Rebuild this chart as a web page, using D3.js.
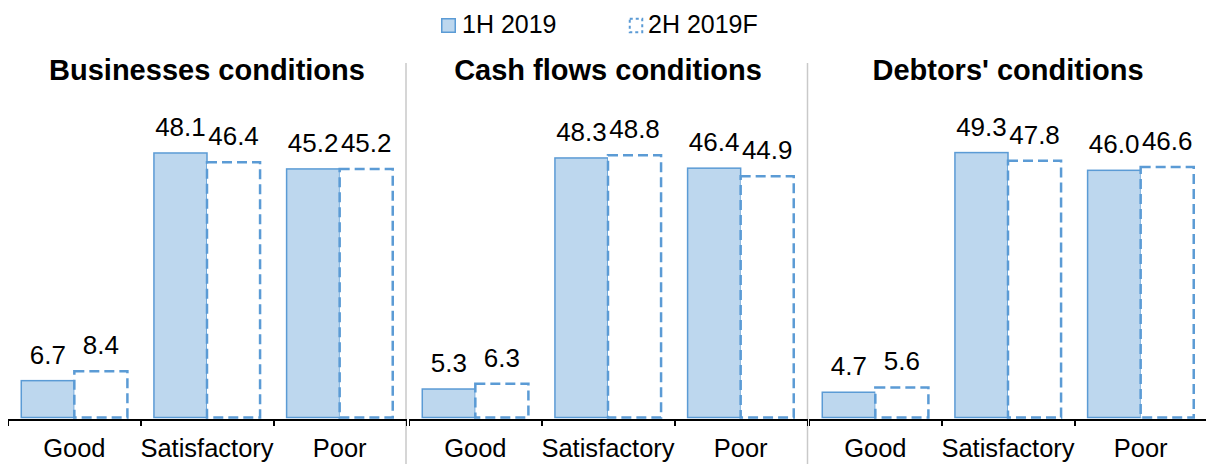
<!DOCTYPE html>
<html>
<head>
<meta charset="utf-8">
<script src="https://cdn.jsdelivr.net/npm/d3@7"></script>
<style>
  body { margin: 0; background: #fff; }
  svg { display: block; font-family: 'Liberation Sans', Arial, sans-serif; }
</style>
</head>
<body>
<script>
// chart data
const categories = ['Good', 'Satisfactory', 'Poor']
const seriesNames = ['1H 2019', '2H 2019F']
const panelTitles = ['Businesses conditions', 'Cash flows conditions', "Debtors' conditions"]
const firstHalf = [[6.7, 48.1, 45.2], [5.3, 48.3, 46.4], [4.7, 49.3, 46.0]]
const secondHalf = [[8.4, 46.4, 45.2], [6.3, 48.8, 44.9], [5.6, 47.8, 46.6]]

const width = 1206
const height = 464
const baseY = 417.5
const topY = 65
const panelX = [8, 409, 809]
const panelW = 398
// each panel in the source has its own value axis maximum
const panelMax = [64.1, 65.6, 65.6]

const fillA = '#bdd7ee'
const strokeB = '#5b9bd5'

const svg = d3.select('body').append('svg')
  .attr('width', width)
  .attr('height', height)

// legend
const legend = svg.append('g')
legend.append('rect')
  .attr('x', 441.75).attr('y', 18.75)
  .attr('width', 13.5).attr('height', 13.5)
  .style('fill', fillA)
  .style('stroke', strokeB)
  .style('stroke-width', 1.5)
legend.append('text')
  .attr('x', 462).attr('y', 33)
  .style('font-size', '25px')
  .text(seriesNames[0])
legend.append('rect')
  .attr('x', 629.75).attr('y', 18.75)
  .attr('width', 12.5).attr('height', 13.5)
  .style('fill', '#fff')
  .style('stroke', strokeB)
  .style('stroke-width', 2)
  .style('stroke-dasharray', '3,3')
legend.append('text')
  .attr('x', 648).attr('y', 33)
  .style('font-size', '25px')
  .text(seriesNames[1])

// gray separators between panels
svg.selectAll('line.sep')
  .data([406, 807.5])
  .enter().append('line')
  .attr('class', 'sep')
  .attr('x1', d => d).attr('x2', d => d)
  .attr('y1', 63).attr('y2', height)
  .style('stroke', '#c9c9c9')
  .style('stroke-width', 1.5)

const fmt = d3.format('.1f')

panelTitles.forEach((title, p) => {
  const x0 = panelX[p]
  const g = svg.append('g')

  const x = d3.scaleBand()
    .domain(categories)
    .range([x0, x0 + panelW])
    .paddingInner(0.2)
    .paddingOuter(0.1)
  const xs = d3.scaleBand()
    .domain(seriesNames)
    .range([0, x.bandwidth()])
  const y = d3.scaleLinear()
    .domain([0, panelMax[p]])
    .range([baseY, topY])

  // title
  g.append('text')
    .attr('x', x0 + panelW / 2)
    .attr('y', 80)
    .attr('text-anchor', 'middle')
    .style('font-size', '29px')
    .style('font-weight', 'bold')
    .text(title)

  const rows = categories.map((c, i) => ({
    cat: c,
    values: [
      { s: seriesNames[0], v: firstHalf[p][i] },
      { s: seriesNames[1], v: secondHalf[p][i] }
    ]
  }))

  const groups = g.selectAll('g.cat')
    .data(rows)
    .enter().append('g')
    .attr('class', 'cat')
    .attr('transform', d => 'translate(' + x(d.cat) + ',0)')

  groups.selectAll('rect')
    .data(d => d.values)
    .enter().append('rect')
    .attr('x', d => xs(d.s))
    .attr('y', d => y(d.v))
    .attr('width', xs.bandwidth())
    .attr('height', d => y(0) - y(d.v))
    .style('fill', (d, i) => i === 0 ? fillA : '#fff')
    .style('stroke', strokeB)
    .style('stroke-width', (d, i) => i === 0 ? 1.5 : 2.5)
    .style('stroke-dasharray', (d, i) => i === 0 ? null : '10,5')

  groups.selectAll('text')
    .data(d => d.values)
    .enter().append('text')
    .attr('x', d => xs(d.s) + xs.bandwidth() / 2)
    .attr('y', d => y(d.v) - 17)
    .attr('text-anchor', 'middle')
    .style('font-size', '26px')
    .text(d => fmt(d.v))

  // tick marks on category boundaries
  const edges = d3.scaleLinear()
    .domain([0, categories.length])
    .range([x0, x0 + panelW])
  const tickAxis = d3.axisBottom(edges)
    .tickValues(d3.range(categories.length + 1))
    .tickSize(6)
    .tickFormat('')
  g.append('g')
    .attr('class', 'axis')
    .attr('transform', 'translate(0,' + (baseY + 2) + ')')
    .call(tickAxis)

  // category labels
  const labelAxis = d3.axisBottom(x).tickSize(0)
  const la = g.append('g')
    .attr('transform', 'translate(0,' + (baseY + 2) + ')')
    .call(labelAxis)
  la.select('.domain').remove()
  la.selectAll('text')
    .attr('dy', null)
    .attr('y', 37)
    .style('font-size', '25.5px')
    .style('font-family', "'Liberation Sans', Arial, sans-serif")
    .style('fill', '#000')
})

svg.selectAll('.axis path, .axis line')
  .style('stroke', '#000')
  .style('stroke-width', 1.5)
  .style('shape-rendering', 'crispEdges')
</script>
</body>
</html>
